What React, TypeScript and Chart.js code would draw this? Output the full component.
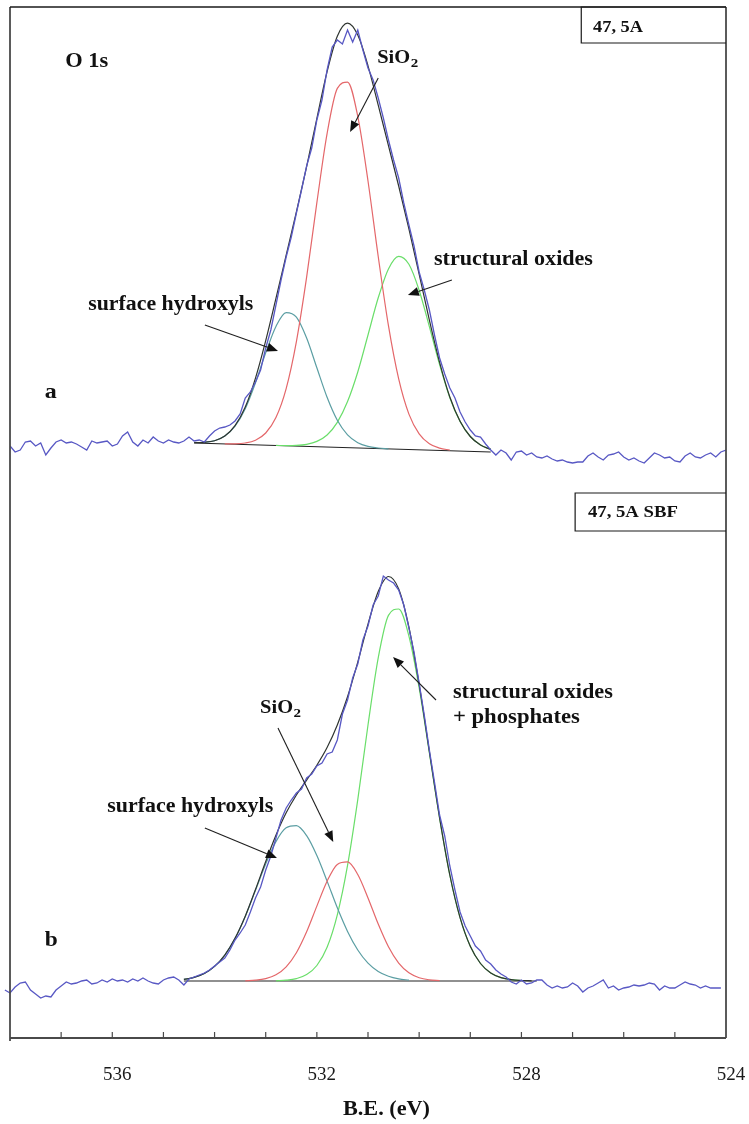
import { useEffect, useRef } from 'react';
import { Chart, registerables } from 'chart.js';

Chart.register(...registerables);

// ---------- axis ----------
const X_MIN = 524;
const X_MAX = 538;
const Y_MIN = 0;
const Y_MAX = 1031;
const LABEL_TICKS = [536, 532, 528, 524];
const MINOR_TICKS = [537, 536, 535, 534, 533, 532, 531, 530, 529, 528, 527, 526, 525];

// ---------- measured spectra (0.1 eV step, decreasing B.E.) ----------
const SPEC_STEP = 0.1;
const spectrumAStart = 538.0;
const spectrumA = [
  592, 586, 588, 596, 597, 592, 595, 583, 590, 596,
  598, 595, 596, 594, 591, 588, 597, 595, 596, 597,
  592, 594, 602, 606, 596, 592, 598, 595, 601, 597,
  595, 598, 596, 595, 597, 601, 597, 598, 596, 602,
  607, 610, 611, 613, 617, 624, 640, 646, 656, 668,
  690, 708, 733, 758, 781, 801, 825, 848, 872, 890,
  918, 938, 968, 991, 998, 994, 1008, 996, 1008, 988,
  970, 958, 940, 920, 898, 878, 860, 835, 813, 792,
  766, 748, 728, 703, 680, 664, 650, 640, 626, 616,
  608, 602, 601, 594, 588, 583, 588, 585, 578, 586,
  587, 583, 585, 581, 580, 582, 579, 577, 578, 576,
  575, 576, 576, 582, 585, 581, 578, 583, 584, 586,
  581, 578, 580, 577, 575, 580, 585, 583, 580, 581,
  577, 576, 582, 585, 581, 580, 583, 585, 581, 586,
  588,
];
const spectrumBStart = 538.1;
const spectrumB = [
  48, 45, 51, 55, 56, 48, 44, 40, 42, 41,
  48, 52, 56, 54, 55, 57, 58, 54, 55, 58,
  56, 59, 57, 58, 56, 59, 57, 60, 57, 55,
  54, 58, 60, 61, 58, 53, 59, 61, 63, 65,
  68, 72, 76, 80, 88, 98, 105, 113, 126, 140,
  151, 168, 182, 200, 218, 230, 238, 245, 249, 260,
  264, 272, 275, 284, 286, 298, 324, 338, 360, 374,
  398, 412, 433, 442, 462, 458, 455, 448, 433, 410,
  386, 355, 323, 288, 256, 223, 202, 172, 148, 126,
  112, 102, 92, 87, 78, 74, 68, 64, 61, 56,
  54, 58, 54, 55, 58, 58, 53, 50, 52, 50,
  51, 55, 52, 46, 50, 52, 55, 58, 50, 52,
  48, 50, 51, 53, 52, 53, 55, 54, 48, 52,
  50, 50, 53, 56, 54, 53, 50, 52, 50, 50,
  50,
];

// ---------- fitted curves (0.2 eV step, decreasing B.E.) ----------
const FIT_STEP = 0.2;
// panel a
const envelopeAStart = 534.4;
const envelopeA = [
  595.3, 595.7, 597.3, 602.0, 612.3, 630.9, 659.9, 697.4, 739.6, 782.8,
  826.1, 871.3, 919.5, 966.3, 1001.7, 1014.8, 1002.9, 972.2, 932.9, 892.4,
  852.0, 809.2, 763.8, 717.8, 675.7, 641.0, 616.8, 601.5, 593.0, 588.6,
];
const siO2AStart = 533.8;
const siO2A = [
  594.1, 594.2, 595.0, 597.8, 605.0, 620.4, 649.4, 696.4, 760.8, 835.3,
  904.4, 949.6, 955.9, 921.6, 857.0, 781.5, 712.3, 659.1, 623.9, 604.2,
  594.3, 589.9, 587.9,
];
const hydroxylAStart = 534.2;
const hydroxylA = [
  595.7, 597.3, 601.9, 611.8, 629.3, 655.2, 685.2, 711.6, 725.4, 720.9,
  700.0, 670.2, 640.7, 617.7, 603.1, 595.3, 591.6, 590.0, 589.2,
];
const oxideAStart = 532.8;
const oxideA = [
  592.6, 592.4, 592.6, 593.7, 596.6, 603.0, 615.6, 636.4, 666.0, 703.0,
  740.2, 769.1, 781.7, 773.8, 747.8, 711.3, 673.3, 640.3, 616.6, 601.5,
  593.0, 588.6,
];
const backgroundAE = [534.4, 528.6];
const backgroundAV = [595, 586];
// panel b
const envelopeBStart = 534.6;
const envelopeB = [
  58.6, 60.6, 64.5, 71.6, 82.9, 99.7, 121.8, 148.5, 176.5, 202.8,
  225.2, 243.0, 257.9, 272.8, 290.4, 313.0, 341.3, 375.9, 413.9, 446.5,
  461.5, 449.0, 410.9, 353.6, 286.4, 220.2, 163.0, 120.3, 91.7, 74.5,
  65.0, 60.4, 58.3, 57.5, 57.2,
];
const hydroxylBStart = 534.6;
const hydroxylB = [
  58.6, 60.6, 64.5, 71.6, 82.9, 99.6, 121.6, 147.7, 174.0, 196.4,
  210.2, 212.3, 202.3, 182.4, 156.9, 130.2, 106.6, 88.0, 74.8, 66.5,
  61.7, 59.1, 57.9,
];
const siO2BStart = 533.4;
const siO2B = [
  57.2, 57.8, 59.4, 63.2, 71.2, 85.3, 106.2, 131.9, 156.8, 173.6,
  176.1, 163.5, 140.1, 113.9, 91.2, 74.9, 65.2, 60.3, 58.2, 57.4,
];
const oxideBStart = 532.8;
const oxideB = [
  57.2, 57.8, 59.4, 63.4, 72.5, 90.7, 123.2, 172.6, 238.4, 313.0,
  380.1, 422.6, 429.0, 401.8, 350.0, 285.1, 219.8, 162.9, 120.3, 91.7,
  74.5, 65.0, 60.4, 58.3, 57.5,
];
const backgroundBE = [534.6, 527.7];
const backgroundBV = [57, 57];

// ---------- styling ----------
const SERIF = '"Liberation Serif", "Times New Roman", serif';
const BLUE = '#5858c4';
const BLACK = '#2e3430';
const RED = '#e4676a';
const TEAL = '#5b9ea3';
const GREEN = '#6ade6a';

type Pt = { x: number; y: number };
const onGrid = (start: number, step: number, values: number[]): Pt[] =>
  values.map((v, i) => ({ x: +(start - i * step).toFixed(2), y: v }));
const pairs = (xs: number[], ys: number[]): Pt[] => xs.map((x, i) => ({ x, y: ys[i] }));

// annotation texts (position in data units: e = B.E., v = intensity at text baseline)
const LABELS = [
  { text: 'O 1s', e: 536.92, v: 971, size: 20, width: 43 },
  { text: 'a', e: 537.32, v: 640, size: 21, width: 12 },
  { text: 'surface hydroxyls', e: 536.47, v: 728, size: 20, width: 165 },
  { text: 'structural oxides', e: 529.71, v: 773, size: 20, width: 159 },
  { text: '47, 5A', e: 526.6, v: 1006, size: 17, width: 50 },
  { text: '47, 5A SBF', e: 526.7, v: 521, size: 17, width: 90 },
  { text: 'structural oxides', e: 529.34, v: 340, size: 20, width: 160 },
  { text: '+ phosphates', e: 529.34, v: 315, size: 20, width: 127 },
  { text: 'surface hydroxyls', e: 536.1, v: 226, size: 20, width: 166 },
  { text: 'b', e: 537.32, v: 92, size: 21, width: 13 },
];
const SUB_LABELS = [
  { text: 'SiO', sub: '2', e: 530.82, v: 975 },
  { text: 'SiO', sub: '2', e: 533.11, v: 325 },
];
const ARROWS = [
  { e1: 534.19, v1: 713, e2: 532.76, v2: 687 },
  { e1: 530.8, v1: 960, e2: 531.35, v2: 906 },
  { e1: 529.36, v1: 758, e2: 530.22, v2: 743 },
  { e1: 532.76, v1: 310, e2: 531.68, v2: 196 },
  { e1: 529.67, v1: 338, e2: 530.51, v2: 381 },
  { e1: 534.19, v1: 210, e2: 532.78, v2: 180 },
];
const BOXES = [
  { e: 526.83, vTop: 1031, vBottom: 995 },
  { e: 526.95, vTop: 545, vBottom: 507 },
];
const AXIS_TITLE = { text: 'B.E. (eV)', e: 531.49, size: 21, width: 87, below: 77 };
const TICK_FONT = { size: 19, below: 42, offset: 5 };

function drawText(ctx: CanvasRenderingContext2D, text: string, x: number, y: number, size: number, width?: number, bold = true) {
  ctx.font = `${bold ? 'bold ' : ''}${size}px ${SERIF}`;
  const m = ctx.measureText(text).width;
  const sx = width ? width / m : 1;
  ctx.save();
  ctx.translate(x, y);
  ctx.scale(sx, 1);
  ctx.fillText(text, 0, 0);
  ctx.restore();
  return m * sx;
}

const overlay = {
  id: 'overlay',
  afterDraw(chart: any) {
    const { ctx, chartArea: a, scales } = chart;
    const xs = scales.x;
    const ys = scales.y;
    const px = (e: number) => xs.getPixelForValue(e);
    const py = (v: number) => ys.getPixelForValue(v);
    ctx.save();

    // frame
    ctx.lineCap = 'butt';
    ctx.strokeStyle = '#4a4a4a';
    ctx.lineWidth = 1.8;
    ctx.beginPath();
    ctx.moveTo(a.left, a.top);
    ctx.lineTo(a.left, a.bottom + 3);
    ctx.moveTo(a.left, a.bottom);
    ctx.lineTo(a.right, a.bottom);
    ctx.moveTo(a.right, a.top);
    ctx.lineTo(a.right, a.bottom);
    ctx.stroke();
    ctx.strokeStyle = '#1a1a1a';
    ctx.lineWidth = 1.3;
    ctx.beginPath();
    ctx.moveTo(a.left, a.top);
    ctx.lineTo(a.right, a.top);
    ctx.stroke();

    // inward minor ticks
    ctx.strokeStyle = '#4a4a4a';
    ctx.lineWidth = 1.2;
    ctx.beginPath();
    MINOR_TICKS.forEach((t) => {
      const x = px(t);
      ctx.moveTo(x, a.bottom);
      ctx.lineTo(x, a.bottom - 6);
    });
    ctx.stroke();

    // tick labels
    ctx.fillStyle = '#1a1a1a';
    ctx.textAlign = 'center';
    ctx.textBaseline = 'alphabetic';
    ctx.font = `${TICK_FONT.size}px ${SERIF}`;
    LABEL_TICKS.forEach((t) => {
      ctx.fillText(String(t), px(t) + TICK_FONT.offset, a.bottom + TICK_FONT.below);
    });

    // sample boxes
    ctx.strokeStyle = '#1a1a1a';
    ctx.lineWidth = 1.2;
    BOXES.forEach((b) => {
      const x0 = px(b.e);
      const y0 = py(b.vTop);
      const y1 = py(b.vBottom);
      ctx.beginPath();
      ctx.moveTo(a.right, y0);
      ctx.lineTo(x0, y0);
      ctx.lineTo(x0, y1);
      ctx.lineTo(a.right, y1);
      ctx.stroke();
    });

    // arrows
    ctx.strokeStyle = '#1f1f1f';
    ctx.fillStyle = '#111';
    ctx.lineWidth = 1.1;
    ARROWS.forEach((r) => {
      const x1 = px(r.e1), y1 = py(r.v1), x2 = px(r.e2), y2 = py(r.v2);
      const ang = Math.atan2(y2 - y1, x2 - x1);
      const L = 11, W = 4.5;
      const bx = x2 - L * Math.cos(ang), by = y2 - L * Math.sin(ang);
      ctx.beginPath();
      ctx.moveTo(x1, y1);
      ctx.lineTo(bx, by);
      ctx.stroke();
      ctx.beginPath();
      ctx.moveTo(x2, y2);
      ctx.lineTo(bx + W * Math.sin(ang), by - W * Math.cos(ang));
      ctx.lineTo(bx - W * Math.sin(ang), by + W * Math.cos(ang));
      ctx.closePath();
      ctx.fill();
    });

    // texts
    ctx.fillStyle = '#111';
    ctx.textBaseline = 'alphabetic';
    ctx.textAlign = 'left';
    LABELS.forEach((l) => drawText(ctx, l.text, px(l.e), py(l.v), l.size, l.width));
    SUB_LABELS.forEach((l) => {
      const x = px(l.e), y = py(l.v);
      const w = drawText(ctx, l.text, x, y, 19, 33);
      drawText(ctx, l.sub, x + w + 0.5, y + 4, 13, 7.5);
    });
    drawText(ctx, AXIS_TITLE.text, px(AXIS_TITLE.e), a.bottom + AXIS_TITLE.below, AXIS_TITLE.size, AXIS_TITLE.width);

    ctx.restore();
  },
};

const line = (label: string, data: Pt[], color: string, width: number, smooth: boolean, extra: any = {}) => ({
  label,
  data,
  borderColor: color,
  backgroundColor: color,
  borderWidth: width,
  pointRadius: 0,
  fill: false,
  tension: 0,
  cubicInterpolationMode: smooth ? 'monotone' : 'default',
  ...extra,
});

export default function App() {
  const ref = useRef<HTMLCanvasElement>(null);
  useEffect(() => {
    if (!ref.current) return;
    const chart = new Chart(ref.current, {
      type: 'line',
      data: {
        datasets: [
          line('spectrum a', onGrid(spectrumAStart, SPEC_STEP, spectrumA), BLUE, 1.3, false),
          line('spectrum b', onGrid(spectrumBStart, SPEC_STEP, spectrumB), BLUE, 1.3, false, { clip: false }),
          line('envelope a', onGrid(envelopeAStart, FIT_STEP, envelopeA), BLACK, 1.2, true),
          line('envelope b', onGrid(envelopeBStart, FIT_STEP, envelopeB), BLACK, 1.2, true),
          line('SiO2 a', onGrid(siO2AStart, FIT_STEP, siO2A), RED, 1.2, true),
          line('hydroxyls a', onGrid(hydroxylAStart, FIT_STEP, hydroxylA), TEAL, 1.2, true),
          line('oxides a', onGrid(oxideAStart, FIT_STEP, oxideA), GREEN, 1.2, true),
          line('SiO2 b', onGrid(siO2BStart, FIT_STEP, siO2B), RED, 1.2, true),
          line('hydroxyls b', onGrid(hydroxylBStart, FIT_STEP, hydroxylB), TEAL, 1.2, true),
          line('oxides b', onGrid(oxideBStart, FIT_STEP, oxideB), GREEN, 1.2, true),
          line('background a', pairs(backgroundAE, backgroundAV), '#222', 1.2, false),
          line('background b', pairs(backgroundBE, backgroundBV), '#222', 1.2, false),
        ] as any,
      },
      options: {
        animation: false,
        responsive: true,
        maintainAspectRatio: false,
        layout: { padding: { left: 10, top: 7, right: 23, bottom: 0 } },
        plugins: { legend: { display: false }, tooltip: { enabled: false }, title: { display: false } },
        elements: { point: { radius: 0 } },
        scales: {
          x: {
            type: 'linear',
            min: X_MIN,
            max: X_MAX,
            reverse: true,
            grid: { display: false, drawTicks: false },
            border: { display: false },
            ticks: { display: false },
            afterFit: (scale: any) => {
              scale.height = 86;
            },
          },
          y: { type: 'linear', display: false, min: Y_MIN, max: Y_MAX },
        },
      } as any,
      plugins: [overlay],
    });
    return () => chart.destroy();
  }, []);
  return (
    <div style={{ position: 'absolute', left: 0, top: 0, width: 749, height: 1124, background: '#fff' }}>
      <canvas ref={ref} />
    </div>
  );
}
